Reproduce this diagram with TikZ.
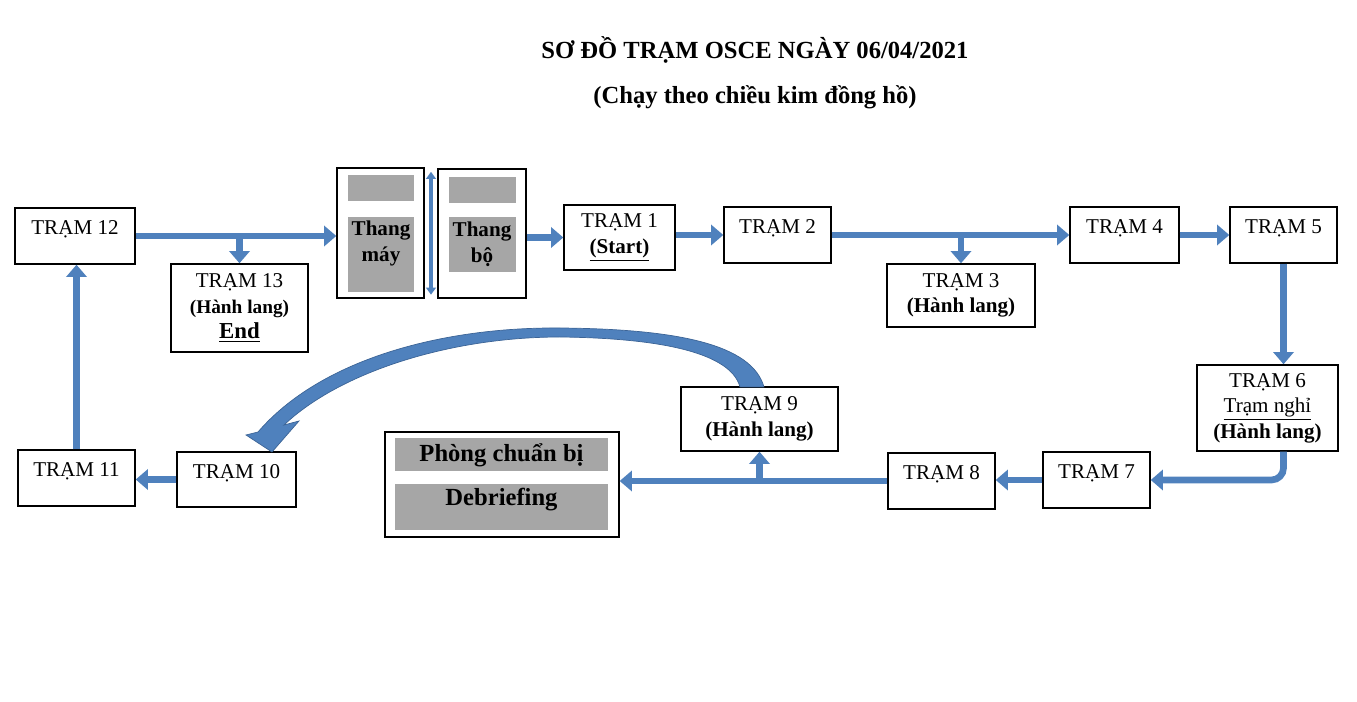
\documentclass[tikz,border=0pt]{standalone}
\usepackage{fontspec}
\setmainfont{Liberation Serif}
\usetikzlibrary{arrows.meta, calc}
\definecolor{flowblue}{RGB}{79,129,189}
\definecolor{flowedge}{RGB}{60,100,150}
\definecolor{padgray}{RGB}{166,166,166}

\begin{document}
\begin{tikzpicture}[x=0.02cm, y=-0.02cm,
    stn/.style={draw, line width=0.8pt, align=center, inner sep=2pt,
        font=\fontsize{12}{14.5}\selectfont},
    oneline/.style={text height=8.5pt, text depth=10pt},
    bigbold/.style={font=\fontsize{14}{16}\selectfont\bfseries},
    flow/.style={draw=flowblue, line width=3.8pt,
        -{Triangle[length=7pt, width=11.5pt]}},
    dbl/.style={draw=flowblue, line width=1.8pt,
        {Triangle[length=4pt, width=5.5pt]}-{Triangle[length=4pt, width=5.5pt]}}]
    \useasboundingbox (0,0) rectangle (1357,702);
    % Title
    \node[bigbold] (title) at (755,50) {SƠ ĐỒ TRẠM OSCE NGÀY 06/04/2021};
    \node[bigbold] (subtitle) at (755,97) {(Chạy theo chiều kim đồng hồ)};
    % Top row
    \node[stn, oneline, minimum width=2.4cm, minimum height=1.12cm] (t12) at (75,236) {TRẠM 12};
    \node[stn, minimum width=2.74cm, minimum height=1.76cm] (t13) at (239.5,308)
        {TRẠM 13\\{\fontsize{11}{14}\selectfont\bfseries (Hành lang)}\\{\fontsize{13}{15}\selectfont\bfseries\underline{End}}};
    \node[stn, minimum width=1.74cm, minimum height=2.6cm] (lift) at (380.5,233) {};
    \fill[padgray] (348,175) rectangle (414,201);
    \fill[padgray] (348,217) rectangle (414,292);
    \node[font=\fontsize{12}{15}\selectfont\bfseries, align=center] (liftlbl) at (381,243.5) {Thang\\máy};
    \node[stn, minimum width=1.76cm, minimum height=2.58cm] (stair) at (482,233.5) {};
    \fill[padgray] (449,177) rectangle (516,203);
    \fill[padgray] (449,217) rectangle (516,272);
    \node[font=\fontsize{12}{15}\selectfont\bfseries, align=center] (stairlbl) at (482,244.5) {Thang\\bộ};
    \node[stn, minimum width=2.22cm, minimum height=1.3cm] (t1) at (619.5,237.5) {TRẠM 1\\\textbf{\underline{(Start)}}};
    \node[stn, oneline, minimum width=2.14cm, minimum height=1.12cm] (t2) at (777.5,235) {TRẠM 2};
    \node[stn, minimum width=2.96cm, minimum height=1.26cm] (t3) at (961,295.5) {TRẠM 3\\\textbf{(Hành lang)}};
    \node[stn, oneline, minimum width=2.18cm, minimum height=1.12cm] (t4) at (1124.5,235) {TRẠM 4};
    \node[stn, oneline, minimum width=2.14cm, minimum height=1.12cm] (t5) at (1283.5,235) {TRẠM 5};
    % Bottom row
    \node[stn, minimum width=2.82cm, minimum height=1.72cm] (t6) at (1267.5,408)
        {TRẠM 6\\\underline{Trạm nghỉ}\\\textbf{(Hành lang)}};
    \node[stn, oneline, minimum width=2.14cm, minimum height=1.12cm] (t7) at (1096.5,480) {TRẠM 7};
    \node[stn, oneline, minimum width=2.14cm, minimum height=1.12cm] (t8) at (941.5,481) {TRẠM 8};
    \node[stn, minimum width=3.14cm, minimum height=1.28cm] (t9) at (759.5,419) {TRẠM 9\\\textbf{(Hành lang)}};
    \node[stn, minimum width=4.68cm, minimum height=2.1cm] (prep) at (502,484.5) {};
    \fill[padgray] (395,438) rectangle (608,471);
    \fill[padgray] (395,484) rectangle (608,530);
    \node[bigbold] (preplbl) at (501.5,455) {Phòng chuẩn bị};
    \node[bigbold] (debrief) at (501.5,500) {Debriefing};
    \node[stn, oneline, minimum width=2.38cm, minimum height=1.1cm] (t10) at (236.5,479.5) {TRẠM 10};
    \node[stn, oneline, minimum width=2.34cm, minimum height=1.12cm] (t11) at (76.5,478) {TRẠM 11};
    % Arrows
    \draw[flow] (t12.east) -- (t12.east -| lift.west);
    \draw[flow] (t13.north |- t12.east) -- (t13.north);
    \coordinate (gaptop) at ($(lift.north east)!0.5!(stair.north west)+(0,4)$);
    \coordinate (gapbot) at ($(lift.south east)!0.5!(stair.south west)+(0,-4)$);
    \draw[dbl] (gaptop) -- (gapbot);
    \draw[flow] (stair.east |- t1.west) -- (t1.west);
    \draw[flow] (t1.east |- t2.west) -- (t2.west);
    \draw[flow] (t2.east) -- (t4.west);
    \draw[flow] (t3.north |- t2.east) -- (t3.north);
    \draw[flow] (t4.east) -- (t5.west);
    \draw[flow] (t5.south) -- (t5.south |- t6.north);
    \draw[flow, rounded corners=0.24cm] (t6.south -| t5.south) |- (t7.east);
    \draw[flow] (t7.west) -- (t7.west -| t8.east);
    \draw[flow] (t8.west) -- (t8.west -| prep.east);
    \draw[flow] (t9.south |- t8.west) -- (t9.south);
    \draw[flow] (t10.west) -- (t10.west -| t11.east);
    \draw[flow] (t11.north) -- (t11.north |- t12.south);
    % Curved arrow from TRAM 9 to TRAM 10
    \fill[flowblue, draw=flowedge, line width=0.4pt] (740,387) .. controls (730,350) and (650,338) .. (560,337)
        .. controls (450,337) and (340,372) .. (284,425) -- (299,421) -- (272,452) -- (246,435) -- (258,432)
        .. controls (320,360) and (440,327) .. (560,328) .. controls (680,329) and (752,345) .. (764,387) -- cycle;
\end{tikzpicture}
\end{document}
